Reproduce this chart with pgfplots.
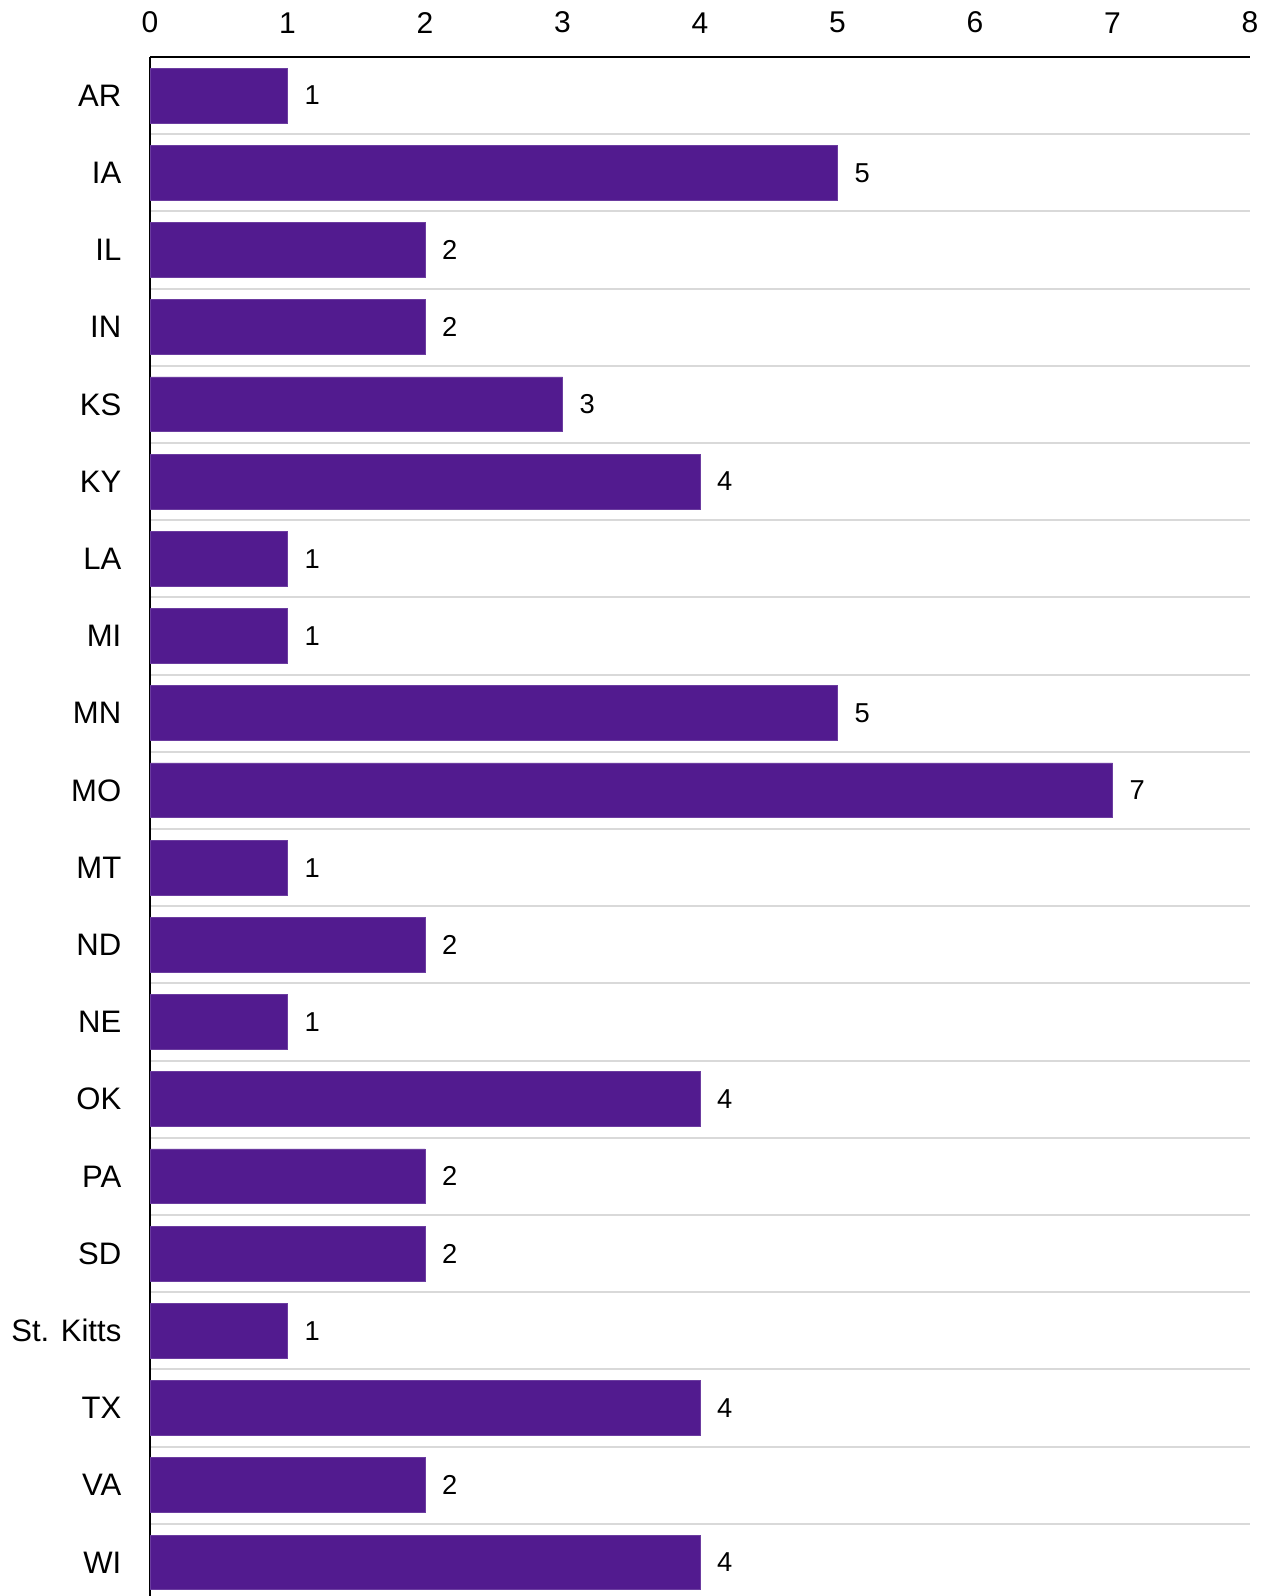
\documentclass[border=0pt]{standalone}
\usepackage{pgfplots}
\pgfplotsset{compat=1.18}
\usepackage{fontspec}
\setmainfont{Liberation Sans}
\definecolor{barpurple}{HTML}{521B8F}
\definecolor{gridgray}{HTML}{D9D9D9}
\begin{document}
\begin{tikzpicture}
\begin{axis}[
  scale only axis,
  width=825pt, height=1154.25pt,
  xbar, bar width=0.71,
  xmin=0, xmax=8,
  ymin=-0.435, ymax=19.5,
  axis x line*=top, axis y line*=left,
  axis line style={black, line width=1.5pt},
  xtick={0,...,8},
  ytick={0,...,19},
  yticklabels={WI,VA,TX,St. Kitts,SD,PA,OK,NE,ND,MT,MO,MN,MI,LA,KY,KS,IN,IL,IA,AR},
  minor ytick={-0.5,0.5,...,19.5},
  yminorgrids=true,
  minor grid style={color=gridgray, line width=1.5pt},
  major tick length=0pt, minor tick length=0pt,
  /pgf/number format/assume math mode=true,
  xticklabel style={font=\fontsize{22.5}{26}\selectfont, yshift=14.3pt},
  yticklabel style={font=\fontsize{23.3}{27}\selectfont, xshift=-18pt},
  nodes near coords,
  every node near coord/.append style={font=\fontsize{20.5}{24}\selectfont, anchor=west, xshift=9.2pt, black},
  clip=false,
]
\addplot[fill=barpurple, draw=barpurple!85!white, line width=0.5pt] coordinates {
(1,19) (5,18) (2,17) (2,16) (3,15) (4,14) (1,13) (1,12) (5,11) (7,10)
(1,9) (2,8) (1,7) (4,6) (2,5) (2,4) (1,3) (4,2) (2,1) (4,0)
};
\end{axis}
\pgfresetboundingbox
\useasboundingbox ([xshift=-112.5pt]current axis.south west) rectangle ([xshift=17.25pt,yshift=42.75pt]current axis.north east);
\end{tikzpicture}
\end{document}
